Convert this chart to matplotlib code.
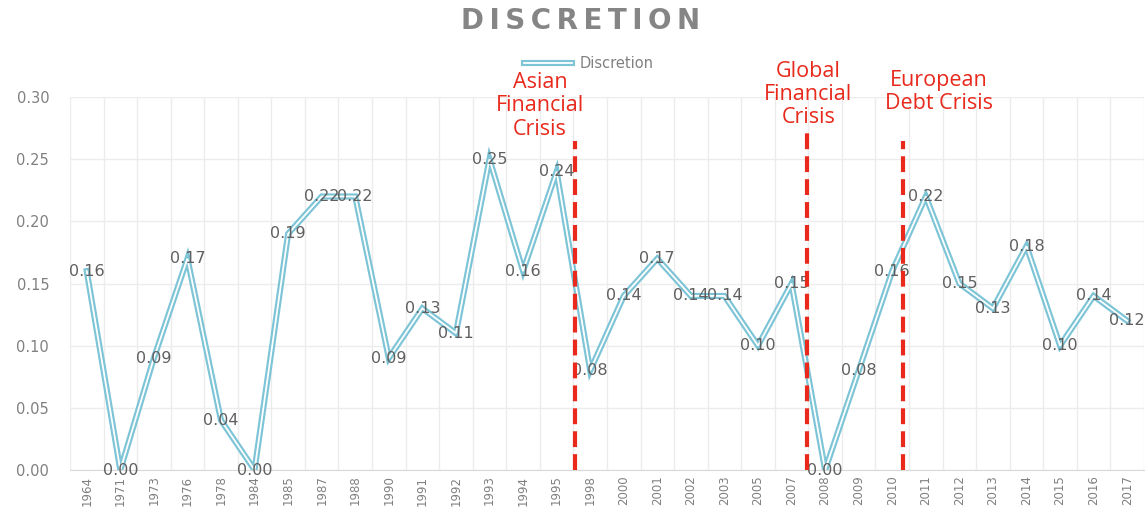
import matplotlib
matplotlib.use("Agg")
import matplotlib.pyplot as plt
import numpy as np

YEARS = ["1964", "1971", "1973", "1976", "1978", "1984", "1985", "1987", "1988", "1990",
         "1991", "1992", "1993", "1994", "1995", "1998", "2000", "2001", "2002", "2003",
         "2005", "2007", "2008", "2009", "2010", "2011", "2012", "2013", "2014", "2015",
         "2016", "2017"]
DISCRETION = [0.16, 0.00, 0.09, 0.17, 0.04, 0.00, 0.19, 0.22, 0.22, 0.09,
              0.13, 0.11, 0.25, 0.16, 0.24, 0.08, 0.14, 0.17, 0.14, 0.14,
              0.10, 0.15, 0.00, 0.08, 0.16, 0.22, 0.15, 0.13, 0.18, 0.10,
              0.14, 0.12]

CRISES = ["Asian\nFinancial\nCrisis", "Global\nFinancial\nCrisis", "European\nDebt Crisis"]

LINE_CLR  = "#7cc4d6"
LABEL_CLR = "#5f5f5f"
AXIS_CLR  = "#808080"
GRID_CLR  = "#ececec"
RED       = "#e8291c"

# layout only: where each crisis marker sits between categories
CRISIS_X     = [14.55, 21.46, 24.33]
CRISIS_TOP   = [0.265, 0.271, 0.265]
CRISIS_TXT_X = [13.5, 21.5, 25.4]
CRISIS_TXT_Y = [0.293, 0.302, 0.304]

fig = plt.figure(figsize=(11.45, 5.11), dpi=100)
ax = fig.add_axes([0.0611, 0.0802, 0.938, 0.730])

x = np.arange(len(YEARS))

# double line: light blue body with white core
outer, = ax.plot(x, DISCRETION, color=LINE_CLR, lw=4.4, solid_joinstyle="miter",
                 zorder=3)
inner, = ax.plot(x, DISCRETION, color="white", lw=1.3, solid_joinstyle="miter",
                 zorder=4)

for xi, v in zip(x, DISCRETION):
    ax.text(xi, v, f"{v:.2f}", ha="center", va="center", fontsize=11.5,
            color=LABEL_CLR, zorder=5)

for cx, top in zip(CRISIS_X, CRISIS_TOP):
    ax.plot([cx, cx], [0, top], color=RED, lw=3, dashes=(3.8, 1.7), zorder=6,
            clip_on=False)

for label, tx, ty in zip(CRISES, CRISIS_TXT_X, CRISIS_TXT_Y):
    ax.text(tx, ty, label, ha="center", va="center", fontsize=15.5, color=RED,
            family="Open Sans", linespacing=1.15, clip_on=False, zorder=7)

ax.set_xlim(-0.5, len(YEARS) - 0.5)
ax.set_ylim(0, 0.30)
ax.set_yticks(np.arange(0, 0.301, 0.05))
ax.set_yticklabels([f"{t:.2f}" for t in np.arange(0, 0.301, 0.05)])
ax.set_xticks(x)
ax.set_xticklabels(YEARS, rotation=90)
ax.set_xticks(np.arange(-0.5, len(YEARS), 1.0), minor=True)

ax.tick_params(axis="y", length=0, pad=15, labelsize=10.5, labelcolor=AXIS_CLR)
ax.tick_params(axis="x", which="major", length=0, pad=4, labelsize=8.5,
               labelcolor=AXIS_CLR)
ax.tick_params(axis="x", which="minor", length=0)
ax.grid(axis="y", which="major", color=GRID_CLR, lw=1)
ax.grid(axis="x", which="minor", color=GRID_CLR, lw=1)
ax.grid(axis="x", which="major", visible=False)
ax.set_axisbelow(True)
for side in ["top", "right", "left"]:
    ax.spines[side].set_visible(False)
ax.spines["bottom"].set_color("#d9d9d9")

title = "\u2009".join("DISCRETION")
fig.text(0.507, 0.958, title, ha="center", va="center", fontsize=20,
         fontweight="bold", color="#858585")

ax.legend([(outer, inner)], ["Discretion"], loc="center",
          bbox_to_anchor=(0.514, 0.876), bbox_transform=fig.transFigure,
          frameon=False, fontsize=10.5, labelcolor=AXIS_CLR, handlelength=3.3,
          handletextpad=0.5)

fig.savefig("out.png", dpi=100, facecolor="white")
